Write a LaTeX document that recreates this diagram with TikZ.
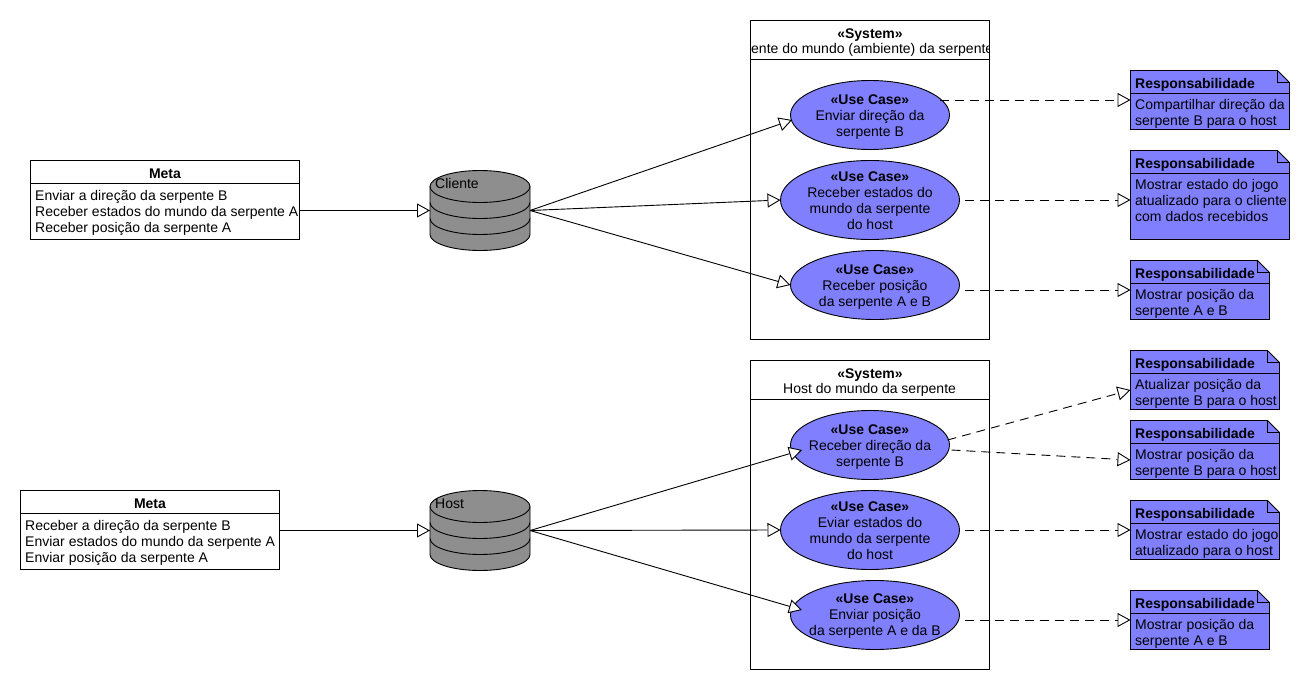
\documentclass[tikz,border=0pt]{standalone}
\usepackage{fontspec}
\setmainfont{Liberation Sans}
\usetikzlibrary{arrows.meta,shapes.geometric}
\definecolor{ucblue}{RGB}{128,128,255}
\definecolor{dbgray}{RGB}{142,142,142}
\tikzset{
  txt/.style={font=\fontsize{14}{16}\selectfont},
  boldtxt/.style={font=\fontsize{14}{16}\selectfont\bfseries},
  open/.style={-{Triangle[open,fill=white,length=13pt,width=14pt,line width=0.9pt]},line width=0.9pt},
  dep/.style={open,dash pattern=on 9pt off 6pt},
  uc/.style={ellipse,draw,fill=ucblue,line width=0.9pt,inner sep=0pt,outer sep=0pt},
  uctext/.style={inner sep=0pt,align=center,txt},
  box/.style={draw,line width=0.9pt,anchor=north west,inner sep=0pt,outer sep=0pt},
  cell/.style={anchor=north west,inner sep=0pt,align=left,txt},
}
\newcommand{\notebox}[6]{% name, x, y, w, h, text
  \fill[ucblue] (#2,#3) -- ++(#4-12,0) -- ++(12,12) -- (#2+#4,#3+#5) -- (#2,#3+#5) -- cycle;
  \draw[line width=0.9pt] (#2,#3) -- ++(#4-12,0) -- ++(12,12) -- (#2+#4,#3+#5) -- (#2,#3+#5) -- cycle;
  \draw[line width=0.9pt] (#2+#4-12,#3) -- ++(0,12) -- ++(12,0);
  \draw[line width=0.9pt] (#2,#3+23) -- ++(#4,0);
  \node[cell,boldtxt] (#1h) at (#2+4.5,#3+8) {Responsabilidade};
  \node[cell] (#1t) at (#2+4.5,#3+29) {#6};
  \node[inner sep=0pt,outer sep=0pt,minimum width=#4pt,minimum height=#5pt,anchor=north west] (#1) at (#2,#3) {};
}
\newcommand{\dbase}[4]{% name, cx, top, label
  \fill[dbgray] (#2-50,#3+16) arc[x radius=50,y radius=16,start angle=180,end angle=360] -- (#2+50,#3+64) arc[x radius=50,y radius=16,start angle=0,end angle=180] -- cycle;
  \draw[black!45,line width=0.5pt] (#2-50,#3+63) -- (#2+50,#3+63);
  \draw[line width=0.9pt] (#2-50,#3+16) arc[x radius=50,y radius=16,start angle=180,end angle=-180];
  \draw[line width=0.9pt] (#2-50,#3+16) -- (#2-50,#3+64) arc[x radius=50,y radius=16,start angle=180,end angle=0] -- (#2+50,#3+16);
  \draw[line width=0.9pt] (#2-50,#3+32) arc[x radius=50,y radius=16,start angle=180,end angle=0];
  \draw[line width=0.9pt] (#2-50,#3+48) arc[x radius=50,y radius=16,start angle=180,end angle=0];
  \node[txt,anchor=north west,inner sep=0pt] (#1l) at (#2-45,#3+8) {#4};
  \node[inner sep=0pt,outer sep=0pt,minimum width=100pt,minimum height=80pt,anchor=north] (#1) at (#2,#3) {};
}
\newcommand{\sysbox}[5]{% name, y, title, title x, height
  \node[box,minimum width=239pt,minimum height=#5pt] (#1) at (750.5,#2) {};
  \draw[line width=0.9pt] (750.5,#2+39) -- ++(239,0);
  \node[boldtxt,inner sep=0pt] (#1s) at (870,#2+15) {«System»};
  \begin{scope}
    \clip (751,#2) rectangle (989,#2+39);
    \node[txt,inner sep=0pt,anchor=north west] (#1t) at (#4,#2+23) {#3};
  \end{scope}
}
\newcommand{\metabox}[5]{% name, x, y, width, text
  \node[box,fill=white,minimum width=#4pt,minimum height=79pt] (#1) at (#2,#3) {};
  \draw[line width=0.9pt] (#2,#3+23) -- ++(#4,0);
  \node[boldtxt,inner sep=0pt] (#1h) at (#2+#4/2,#3+13.5) {Meta};
  \node[cell] (#1t) at (#2+4.5,#3+30) {#5};
}
\begin{document}
\begin{tikzpicture}[x=1pt,y=-1pt]
\useasboundingbox (0,0) rectangle (1310,690);
\fill[white] (0,0) rectangle (1310,690);

\sysbox{sysa}{20.5}{ente do mundo (ambiente) da serpente}{751}{319}
\sysbox{sysb}{360.5}{Host do mundo da serpente}{783}{309}

\metabox{metaa}{30.5}{160.5}{269}{Enviar a direção da serpente B\\Receber estados do mundo da serpente A\\Receber posição da serpente A}
\metabox{metab}{20.5}{490.5}{259}{Receber a direção da serpente B\\Enviar estados do mundo da serpente A\\Enviar posição da serpente A}

\dbase{dba}{480}{170.5}{Cliente}
\dbase{dbb}{480}{490.5}{Host}

\node[uc,minimum width=159pt,minimum height=69pt] (ua) at (870,115) {};
\node[uctext] (uat) at (870,117) {\textbf{«Use Case»}\\Enviar direção da\\serpente B};
\node[uc,minimum width=179pt,minimum height=79pt] (ub) at (870,200) {};
\node[uctext] (ubt) at (870,201) {\textbf{«Use Case»}\\Receber estados do\\mundo da serpente\\do host};
\node[uc,minimum width=169pt,minimum height=69pt] (uc) at (875,285) {};
\node[uctext] (uct) at (875,287) {\textbf{«Use Case»}\\Receber posição\\da serpente A e B};
\node[uc,minimum width=159pt,minimum height=69pt] (ud) at (870,445) {};
\node[uctext] (udt) at (870,447) {\textbf{«Use Case»}\\Receber direção da\\serpente B};
\node[uc,minimum width=179pt,minimum height=79pt] (ue) at (870,530) {};
\node[uctext] (uet) at (870,531) {\textbf{«Use Case»}\\Eviar estados do\\mundo da serpente\\do host};
\node[uc,minimum width=169pt,minimum height=69pt] (uf) at (875,615) {};
\node[uctext] (uft) at (875,616) {\textbf{«Use Case»}\\Enviar posição\\da serpente A e da B};

\notebox{na}{1130.5}{70.5}{159}{59}{Compartilhar direção da\\serpente B para o host}
\notebox{nb}{1130.5}{150.5}{159}{89}{Mostrar estado do jogo\\atualizado para o cliente\\com dados recebidos}
\notebox{nc}{1130.5}{260.5}{139}{59}{Mostrar posição da\\serpente A e B}
\notebox{nd}{1130.5}{350.5}{149}{59}{Atualizar posição da\\serpente B para o host}
\notebox{ne}{1130.5}{420.5}{149}{59}{Mostrar posição da\\serpente B para o host}
\notebox{nf}{1130.5}{500.5}{149}{59}{Mostrar estado do jogo\\atualizado para o host}
\notebox{ng}{1130.5}{590.5}{139}{59}{Mostrar posição da\\serpente A e B}

\draw[open] ([shift={(0,10.5)}]metaa.east) -- (dba.west);
\draw[open] ([shift={(0,0.5)}]metab.east) -- (dbb.west);
\draw[open] (dba.east) -- ([shift={(-78,5)}]ua.center);
\draw[open] (dba.east) -- (ub.west);
\draw[open] (dba.east) -- (uc.west);
\draw[open] (dbb.east) -- ([shift={(-68,5)}]ud.center);
\draw[open] (dbb.east) -- (ue.west);
\draw[open] (dbb.east) -- ([shift={(-73,-5)}]uf.center);

\draw[dep] ([shift={(70,-15)}]ua.center) -- (na.west);
\draw[dep] ([shift={(5,0)}]ub.east) -- ([shift={(0,5)}]nb.west);
\draw[dep] ([shift={(5,5)}]uc.east) -- (nc.west);
\draw[dep] ([shift={(-2,-5)}]ud.east) -- ([shift={(0,10)}]nd.west);
\draw[dep] ([shift={(2,5)}]ud.east) -- ([shift={(0,10)}]ne.west);
\draw[dep] ([shift={(5,0)}]ue.east) -- (nf.west);
\draw[dep] ([shift={(5,5)}]uf.east) -- (ng.west);
\end{tikzpicture}
\end{document}
